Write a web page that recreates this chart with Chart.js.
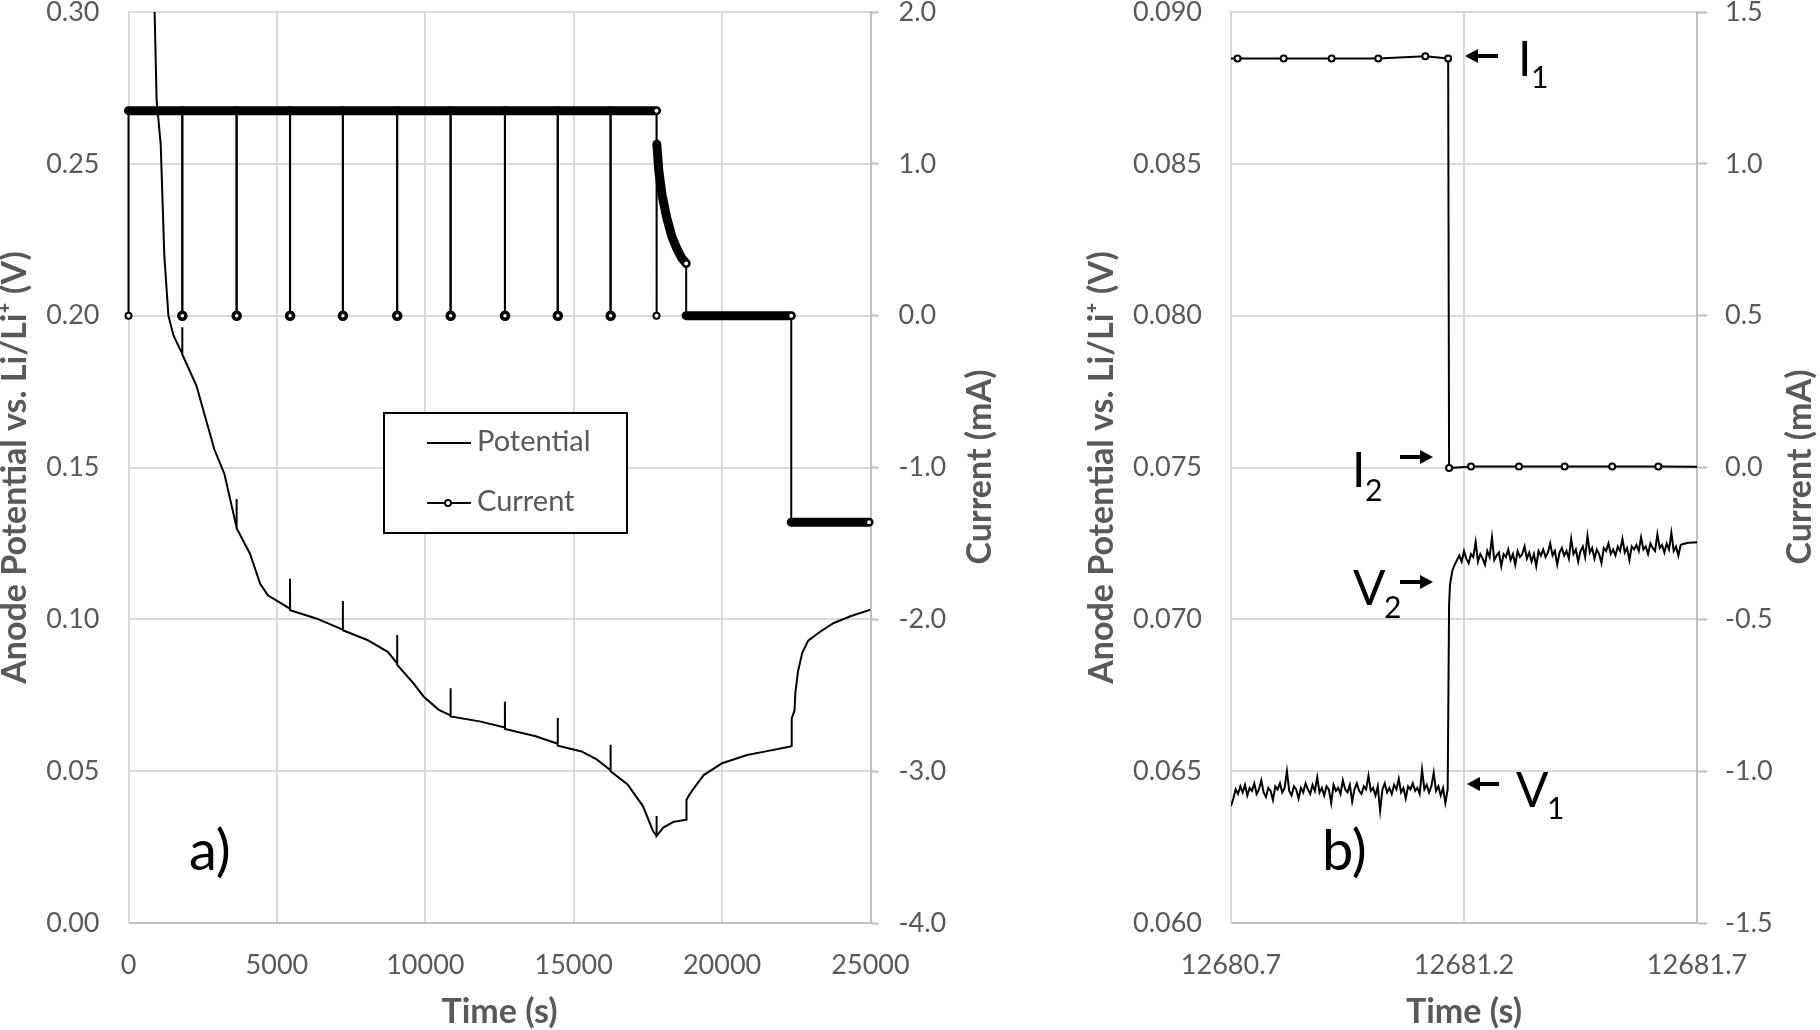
<!DOCTYPE html>
<html>
<head>
<meta charset="utf-8">
<title>Anode potential and current</title>
<script src="https://cdn.jsdelivr.net/npm/chart.js@4.4.1/dist/chart.umd.min.js"></script>
<style>
  html, body { margin: 0; padding: 0; background: #fff; overflow: hidden; }
  #wrapA { position: absolute; left: 0; top: 0; width: 1010px; height: 1030px; }
  #wrapB { position: absolute; left: 1010px; top: 0; width: 810px; height: 1030px; }
</style>
</head>
<body>
<div id="wrapA"><canvas id="chartA" width="1010" height="1030"></canvas></div>
<div id="wrapB"><canvas id="chartB" width="810" height="1030"></canvas></div>
<script>
// ---------- panel a) : whole pulse discharge, CV step, rest and charge ----------
const timeTicksA = [0, 5000, 10000, 15000, 20000, 25000];
const potTicksA = [0, 0.05, 0.10, 0.15, 0.20, 0.25, 0.30];
const curTicksA = [-4, -3, -2, -1, 0, 1, 2];

// anode potential (V)
const potA_t = [800, 880, 947, 1085, 1206, 1344, 1516,
  1810, 1811, 1816, 2288, 2545, 2891, 3234,
  3640, 3641, 3646, 4093, 4437, 4696,
  5440, 5441, 5446, 6327,
  7220, 7221, 7226, 8045, 8736,
  9050, 9051, 9056, 9596, 9940, 10455,
  10850, 10851, 10856, 11830,
  12681, 12682, 12687, 13720,
  14460, 14461, 14466, 15267, 15786,
  16240, 16241, 16246, 16816, 17332, 17672,
  17790, 17791, 17796, 18018, 18362, 18790,
  18800, 18880, 19043, 19380, 20000, 20843, 21517, 22303,
  22336, 22345, 22440, 22470, 22560, 22700, 22900, 23313, 23763, 24325, 25000];
const potA_v = [0.330, 0.300, 0.271, 0.2565, 0.220, 0.200, 0.1935,
  0.1874, 0.1962, 0.1872, 0.177, 0.168, 0.156, 0.1478,
  0.1303, 0.1396, 0.1300, 0.1216, 0.1117, 0.1079,
  0.1035, 0.1134, 0.1030, 0.1003,
  0.0966, 0.1060, 0.0964, 0.0932, 0.0893,
  0.0855, 0.0948, 0.0850, 0.0790, 0.0746, 0.0702,
  0.0684, 0.0773, 0.0680, 0.0664,
  0.0644, 0.0729, 0.0639, 0.0615,
  0.0590, 0.0675, 0.0584, 0.0565, 0.0538,
  0.0503, 0.0587, 0.0500, 0.0456, 0.0385, 0.0303,
  0.0287, 0.0352, 0.0287, 0.0314, 0.0333, 0.0340,
  0.0405, 0.0420, 0.0443, 0.0487, 0.0526, 0.0553, 0.0566, 0.0581,
  0.0583, 0.0674, 0.0700, 0.0760, 0.0830, 0.0890, 0.0930, 0.0960, 0.0988, 0.1010, 0.1032];

// current (mA): constant current with short interruptions, CV tail, rest, charge
const curA_t = [0, 0,
  1810, 1810, 1815, 1815,
  3640, 3640, 3645, 3645,
  5440, 5440, 5445, 5445,
  7220, 7220, 7225, 7225,
  9050, 9050, 9055, 9055,
  10850, 10850, 10855, 10855,
  12681, 12681, 12686, 12686,
  14460, 14460, 14465, 14465,
  16240, 16240, 16245, 16245,
  17790, 17790,
  17800, 17870, 17980, 18140, 18310, 18480, 18640, 18790,
  18790, 22330, 22330, 24950];
const curA_i = [0, 1.35,
  1.35, 0, 0, 1.35,
  1.35, 0, 0, 1.35,
  1.35, 0, 0, 1.35,
  1.35, 0, 0, 1.35,
  1.35, 0, 0, 1.35,
  1.35, 0, 0, 1.35,
  1.35, 0, 0, 1.35,
  1.35, 0, 0, 1.35,
  1.35, 0, 0, 1.35,
  1.35, 0,
  1.13, 0.95, 0.79, 0.64, 0.52, 0.44, 0.38, 0.344,
  0, 0, -1.36, -1.36];
// time windows logged densely (markers merge into a thick band)
const denseSpansA = [[0, 17790], [17800, 18790], [18790, 22330], [22330, 25000]];

// ---------- panel b) : zoom on one current interruption ----------
const timeTicksB = [12680.7, 12681.2, 12681.7];
const potTicksB = [0.060, 0.065, 0.070, 0.075, 0.080, 0.085, 0.090];
const curTicksB = [-1.5, -1.0, -0.5, 0, 0.5, 1.0, 1.5];

const potB_t = [
  12680.700, 12680.705, 12680.710, 12680.715, 12680.720, 12680.725, 12680.730, 12680.735, 12680.740, 12680.745,
  12680.750, 12680.755, 12680.760, 12680.765, 12680.770, 12680.775, 12680.780, 12680.785, 12680.790, 12680.795,
  12680.800, 12680.805, 12680.810, 12680.815, 12680.820, 12680.825, 12680.830, 12680.835, 12680.840, 12680.845,
  12680.850, 12680.855, 12680.860, 12680.865, 12680.870, 12680.875, 12680.880, 12680.885, 12680.890, 12680.895,
  12680.900, 12680.905, 12680.910, 12680.915, 12680.920, 12680.925, 12680.930, 12680.935, 12680.940, 12680.945,
  12680.950, 12680.955, 12680.960, 12680.965, 12680.970, 12680.975, 12680.980, 12680.985, 12680.990, 12680.995,
  12681.000, 12681.005, 12681.010, 12681.015, 12681.020, 12681.025, 12681.030, 12681.035, 12681.040, 12681.045,
  12681.050, 12681.055, 12681.060, 12681.065, 12681.070, 12681.075, 12681.080, 12681.085, 12681.090, 12681.095,
  12681.100, 12681.105, 12681.110, 12681.115, 12681.120, 12681.125, 12681.130, 12681.135, 12681.140, 12681.145,
  12681.150, 12681.155, 12681.160, 12681.165,
  12681.168,
  12681.170, 12681.175, 12681.180, 12681.185, 12681.190, 12681.195, 12681.200, 12681.205, 12681.210, 12681.215,
  12681.220, 12681.225, 12681.230, 12681.235, 12681.240, 12681.245, 12681.250, 12681.255, 12681.260, 12681.265,
  12681.270, 12681.275, 12681.280, 12681.285, 12681.290, 12681.295, 12681.300, 12681.305, 12681.310, 12681.315,
  12681.320, 12681.325, 12681.330, 12681.335, 12681.340, 12681.345, 12681.350, 12681.355, 12681.360, 12681.365,
  12681.370, 12681.375, 12681.380, 12681.385, 12681.390, 12681.395, 12681.400, 12681.405, 12681.410, 12681.415,
  12681.420, 12681.425, 12681.430, 12681.435, 12681.440, 12681.445, 12681.450, 12681.455, 12681.460, 12681.465,
  12681.470, 12681.475, 12681.480, 12681.485, 12681.490, 12681.495, 12681.500, 12681.505, 12681.510, 12681.515,
  12681.520, 12681.525, 12681.530, 12681.535, 12681.540, 12681.545, 12681.550, 12681.555, 12681.560, 12681.565,
  12681.570, 12681.575, 12681.580, 12681.585, 12681.590, 12681.595, 12681.600, 12681.605, 12681.610, 12681.615,
  12681.620, 12681.625, 12681.630, 12681.635, 12681.640, 12681.645, 12681.650, 12681.655, 12681.660, 12681.665,
  12681.670, 12681.675, 12681.680, 12681.685, 12681.690, 12681.695, 12681.700];
const potB_v = [
  0.06385, 0.06410, 0.06440, 0.06425, 0.06450, 0.06430, 0.06455, 0.06420, 0.06445, 0.06435,
  0.06460, 0.06425, 0.06440, 0.06470, 0.06430, 0.06415, 0.06445, 0.06435, 0.06405, 0.06450,
  0.06440, 0.06460, 0.06430, 0.06445, 0.06500, 0.06435, 0.06420, 0.06450, 0.06440, 0.06410,
  0.06445, 0.06430, 0.06460, 0.06440, 0.06425, 0.06455, 0.06435, 0.06480, 0.06430, 0.06445,
  0.06420, 0.06450, 0.06440, 0.06395, 0.06455, 0.06435, 0.06445, 0.06425, 0.06470, 0.06440,
  0.06430, 0.06455, 0.06400, 0.06440, 0.06460, 0.06435, 0.06425, 0.06450, 0.06440, 0.06485,
  0.06435, 0.06445, 0.06420, 0.06450, 0.06370, 0.06440, 0.06460, 0.06430, 0.06445, 0.06425,
  0.06455, 0.06440, 0.06475, 0.06430, 0.06445, 0.06410, 0.06450, 0.06440, 0.06460, 0.06435,
  0.06445, 0.06425, 0.06505, 0.06440, 0.06455, 0.06430, 0.06450, 0.06495, 0.06435, 0.06450,
  0.06420, 0.06445, 0.06395, 0.06440,
  0.07050,
  0.07115, 0.07160, 0.07180, 0.07195, 0.07210, 0.07190, 0.07225, 0.07200, 0.07185, 0.07215,
  0.07205, 0.07255, 0.07190, 0.07215, 0.07200, 0.07180, 0.07225, 0.07205, 0.07270, 0.07195,
  0.07210, 0.07220, 0.07175, 0.07215, 0.07205, 0.07230, 0.07195, 0.07215, 0.07180, 0.07225,
  0.07205, 0.07215, 0.07240, 0.07200, 0.07220, 0.07190, 0.07215, 0.07175, 0.07225, 0.07210,
  0.07230, 0.07205, 0.07220, 0.07250, 0.07210, 0.07225, 0.07180, 0.07220, 0.07235, 0.07210,
  0.07225, 0.07200, 0.07265, 0.07215, 0.07230, 0.07190, 0.07225, 0.07240, 0.07205, 0.07275,
  0.07220, 0.07235, 0.07200, 0.07230, 0.07215, 0.07185, 0.07235, 0.07225, 0.07250, 0.07215,
  0.07230, 0.07210, 0.07240, 0.07225, 0.07265, 0.07220, 0.07235, 0.07195, 0.07240, 0.07230,
  0.07245, 0.07225, 0.07270, 0.07230, 0.07240, 0.07215, 0.07250, 0.07235, 0.07225, 0.07280,
  0.07235, 0.07245, 0.07220, 0.07250, 0.07230, 0.07285, 0.07225, 0.07240, 0.07210, 0.07245,
  0.07248, 0.07250, 0.07252, 0.07252, 0.07253, 0.07253, 0.07254];

const curB_t = [12680.61, 12680.714, 12680.813, 12680.916, 12681.016, 12681.117, 12681.166,
  12681.168, 12681.215, 12681.318, 12681.416, 12681.518, 12681.617, 12681.72];
const curB_i = [1.347, 1.347, 1.347, 1.347, 1.347, 1.354, 1.347,
  -0.002, 0.003, 0.003, 0.003, 0.003, 0.003, 0.002];

// ---------- styling ----------
const GRID = '#d9d9d9';
const AXIS = '#bfbfbf';
const TXT = '#595959';
const FONT = 'Lato, "Open Sans", sans-serif';
Chart.defaults.font.family = FONT;
Chart.defaults.color = TXT;

function pts(ts, vs) {
  return ts.map((t, i) => ({ x: t, y: vs[i] }));
}

function inSpan(spans, t0, t1) {
  return t1 > t0 && spans.some(s => t0 >= s[0] && t1 <= s[1]);
}

function potentialDataset(ts, vs) {
  return {
    label: 'Potential',
    yAxisID: 'y',
    data: pts(ts, vs),
    borderColor: '#000',
    borderWidth: 2,
    pointRadius: 0,
    tension: 0,
    clip: 0
  };
}

function currentDataset(ts, vs, spans) {
  const band = (a, b) => inSpan(spans, ts[a], ts[b]);
  // short dense rest (markers piled up on each other) -> bolder ring
  const piled = i => i > 0 && band(i - 1, i) && ts[i] - ts[i - 1] < 50;
  return {
    label: 'Current',
    yAxisID: 'y1',
    data: pts(ts, vs),
    borderColor: '#000',
    borderWidth: 2,
    tension: 0,
    pointStyle: 'circle',
    pointBackgroundColor: '#fff',
    pointBorderColor: '#000',
    pointBorderWidth: ctx => piled(ctx.dataIndex) ? 3.5 : 2,
    pointRadius: ctx => {
      const i = ctx.dataIndex, n = ts.length;
      if (i + 1 < n && band(i, i + 1)) return 0;
      for (let k = i + 1; k <= i + 3 && k + 1 < n; k++) {
        if (Math.abs(ts[k] - ts[i]) < 50 && vs[k] === vs[i] && band(k, k + 1)) return 0;
      }
      return piled(i) ? 3.5 : 3;
    },
    segment: {
      borderWidth: ctx => band(ctx.p0DataIndex, ctx.p1DataIndex) ? 9 : 2,
      borderCapStyle: ctx => band(ctx.p0DataIndex, ctx.p1DataIndex) ? 'round' : 'butt'
    },
    clip: { left: 8, top: 0, right: 8, bottom: 0 }
  };
}

function fixedTicks(list) {
  return s => { s.ticks = list.map(v => ({ value: v })); };
}

function fitVertical(width) {
  return s => {
    s.width = width;
    s.paddingTop = 0;
    s.paddingBottom = 0;
  };
}

function makeScales(o) {
  return {
    x: {
      type: 'linear',
      position: 'bottom',
      min: o.xTicks[0],
      max: o.xTicks[o.xTicks.length - 1],
      afterBuildTicks: fixedTicks(o.xTicks),
      afterFit: s => { s.height = 107; },
      grid: { color: GRID, lineWidth: 2, drawTicks: false },
      border: { color: AXIS, width: 2 },
      ticks: { padding: 26, maxRotation: 0, autoSkip: false, callback: o.xFmt, font: { size: 27 } },
      title: {
        display: true, text: 'Time (s)', color: TXT,
        font: { size: 34, weight: 'bold', lineHeight: 0.9 },
        padding: { top: 0, bottom: 3 }
      }
    },
    y: {
      type: 'linear',
      position: 'left',
      min: o.yTicks[0],
      max: o.yTicks[o.yTicks.length - 1],
      afterBuildTicks: fixedTicks(o.yTicks),
      afterFit: fitVertical(o.leftW),
      grid: { color: GRID, lineWidth: 2, drawTicks: false },
      border: { color: GRID, width: 2 },
      ticks: { padding: 29, autoSkip: false, callback: o.yFmt, font: { size: 27, lineHeight: 0.8 } },
      title: {
        display: true, text: 'Anode Potential vs. Li/Li\u207A (V)', color: TXT,
        font: { size: 34, weight: 'bold', lineHeight: 0.9 },
        padding: { top: o.titlePad, bottom: 0 }
      }
    },
    y1: {
      type: 'linear',
      position: 'right',
      min: o.y1Ticks[0],
      max: o.y1Ticks[o.y1Ticks.length - 1],
      afterBuildTicks: fixedTicks(o.y1Ticks),
      afterFit: fitVertical(o.rightW),
      grid: { drawOnChartArea: false, drawTicks: true, tickLength: o.tickLen, tickColor: AXIS, tickWidth: 2 },
      border: { color: AXIS, width: 2 },
      ticks: { padding: o.rightPad, autoSkip: false, callback: o.y1Fmt, font: { size: 27, lineHeight: 0.8 } },
      title: { display: false }
    }
  };
}

// right-hand axis title reads bottom-to-top like the left one
function rightTitle(ctx, x, y) {
  ctx.save();
  ctx.translate(x, y);
  ctx.rotate(-Math.PI / 2);
  ctx.font = 'bold 34px ' + FONT;
  ctx.fillStyle = TXT;
  ctx.textAlign = 'center';
  ctx.textBaseline = 'middle';
  ctx.fillText('Current (mA)', 0, 0);
  ctx.restore();
}

function arrow(ctx, xFrom, xTo, y) {
  const dir = Math.sign(xTo - xFrom);
  const head = 13, half = 7;
  ctx.save();
  ctx.strokeStyle = '#000';
  ctx.fillStyle = '#000';
  ctx.lineWidth = 4;
  ctx.beginPath();
  ctx.moveTo(xFrom, y);
  ctx.lineTo(xTo - dir * head, y);
  ctx.stroke();
  ctx.beginPath();
  ctx.moveTo(xTo, y);
  ctx.lineTo(xTo - dir * head, y - half);
  ctx.lineTo(xTo - dir * head, y + half);
  ctx.closePath();
  ctx.fill();
  ctx.restore();
}

function subLabel(ctx, main, sub, x, y, sx, sy) {
  ctx.save();
  ctx.fillStyle = '#000';
  ctx.textBaseline = 'alphabetic';
  ctx.textAlign = 'left';
  ctx.font = '48px ' + FONT;
  ctx.fillText(main, x, y);
  ctx.font = '30px ' + FONT;
  ctx.fillText(sub, sx, sy);
  ctx.restore();
}

function panelLetter(ctx, text, x) {
  ctx.save();
  ctx.fillStyle = '#000';
  ctx.font = '56px ' + FONT;
  ctx.textBaseline = 'alphabetic';
  ctx.fillText(text, x, 870);
  ctx.restore();
}

const decorA = {
  id: 'decorA',
  afterDraw(chart) {
    const ctx = chart.ctx;
    rightTitle(ctx, 980, 467);
    panelLetter(ctx, 'a)', 189);
    // legend box
    ctx.save();
    ctx.fillStyle = '#fff';
    ctx.fillRect(384, 413, 243, 120);
    ctx.strokeStyle = '#000';
    ctx.lineWidth = 2;
    ctx.strokeRect(384, 413, 243, 120);
    ctx.beginPath();
    ctx.moveTo(427, 443); ctx.lineTo(471, 443);
    ctx.moveTo(427, 503); ctx.lineTo(471, 503);
    ctx.stroke();
    ctx.beginPath();
    ctx.arc(448, 503, 3, 0, Math.PI * 2);
    ctx.fillStyle = '#fff';
    ctx.fill();
    ctx.stroke();
    ctx.fillStyle = TXT;
    ctx.font = '29px ' + FONT;
    ctx.textBaseline = 'middle';
    ctx.fillText('Potential', 477, 442);
    ctx.fillText('Current', 477, 502);
    ctx.restore();
  }
};

const decorB = {
  id: 'decorB',
  afterDraw(chart) {
    const ctx = chart.ctx;
    rightTitle(ctx, 790, 467);
    panelLetter(ctx, 'b)', 312);
    arrow(ctx, 488, 455, 56);
    subLabel(ctx, 'I', '1', 508, 76, 521, 88);
    arrow(ctx, 390, 423, 457);
    subLabel(ctx, 'I', '2', 342, 487, 355, 501);
    arrow(ctx, 390, 423, 582);
    subLabel(ctx, 'V', '2', 343, 605, 374, 618);
    arrow(ctx, 489, 457, 784);
    subLabel(ctx, 'V', '1', 506, 807, 537, 819);
  }
};

function baseOptions(scales) {
  return {
    responsive: false,
    maintainAspectRatio: false,
    animation: false,
    events: [],
    layout: { padding: { top: 12, left: 0, right: 0, bottom: 0 } },
    plugins: { legend: { display: false }, tooltip: { enabled: false } },
    scales: scales
  };
}

new Chart(document.getElementById('chartA'), {
  type: 'line',
  data: {
    datasets: [
      potentialDataset(potA_t, potA_v),
      currentDataset(curA_t, curA_i, denseSpansA)
    ]
  },
  options: baseOptions(makeScales({
    xTicks: timeTicksA, yTicks: potTicksA, y1Ticks: curTicksA,
    xFmt: v => String(v), yFmt: v => v.toFixed(2), y1Fmt: v => v.toFixed(1),
    leftW: 128.5, rightW: 139.5, titlePad: 0, tickLen: 8, rightPad: 20
  })),
  plugins: [decorA]
});

const chartBCurrent = currentDataset(curB_t, curB_i, []);
chartBCurrent.clip = 0;
new Chart(document.getElementById('chartB'), {
  type: 'line',
  data: {
    datasets: [
      potentialDataset(potB_t, potB_v),
      chartBCurrent
    ]
  },
  options: baseOptions(makeScales({
    xTicks: timeTicksB, yTicks: potTicksB, y1Ticks: curTicksB,
    xFmt: v => v.toFixed(1), yFmt: v => v.toFixed(3), y1Fmt: v => v.toFixed(1),
    leftW: 221, rightW: 123, titlePad: 77, tickLen: 10, rightPad: 18
  })),
  plugins: [decorB]
});
</script>
</body>
</html>
